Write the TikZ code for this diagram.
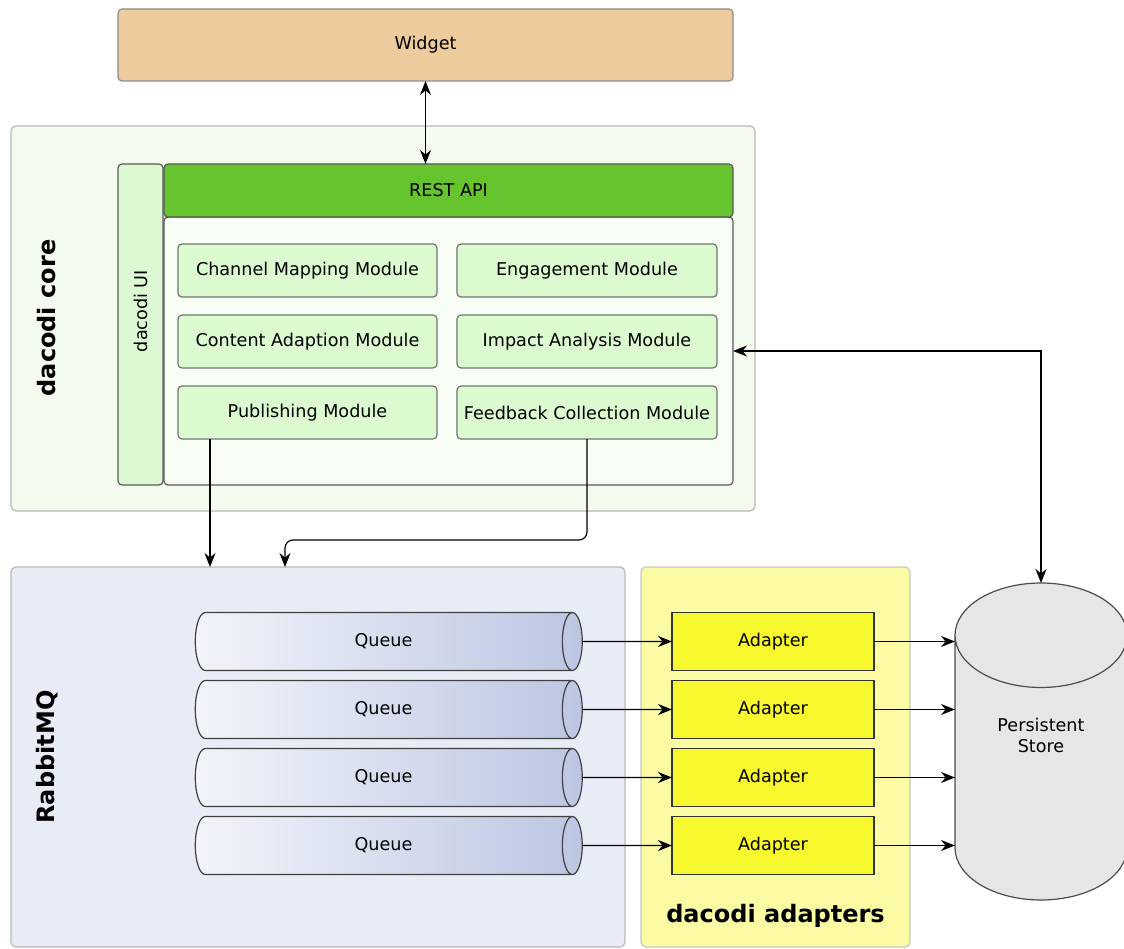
\documentclass[tikz,border=0pt]{standalone}
\usepackage{fontspec}
\setmainfont{DejaVu Sans}
\usetikzlibrary{shapes.geometric,arrows.meta}

\definecolor{widgetfill}{HTML}{EECB9D}
\definecolor{corefill}{HTML}{F3FBEF}
\definecolor{uifill}{HTML}{DDF9D3}
\definecolor{restfill}{HTML}{66C42F}
\definecolor{areafill}{HTML}{F8FDF5}
\definecolor{modfill}{HTML}{DCFAD0}
\definecolor{rabbitfill}{HTML}{E8ECF6}
\definecolor{queueleft}{HTML}{F2F4FA}
\definecolor{queueright}{HTML}{BCC6E2}
\definecolor{adaptfill}{HTML}{FBFBA4}
\definecolor{adapterfill}{HTML}{F8F82E}
\definecolor{storefill}{HTML}{E6E6E6}

\begin{document}
\begin{tikzpicture}[x=1pt,y=-1pt,
  every node/.style={inner sep=0pt,outer sep=0pt,font=\fontsize{17.6}{21}\selectfont},
  group/.style={draw=black!28,line width=1.2pt,rounded corners=5pt},
  module/.style={draw=black!55,line width=1.2pt,rounded corners=4pt,fill=modfill,
    minimum height=53pt},
  queue/.style={cylinder,draw=black!75,line width=1.2pt,aspect=1.3,
    left color=queueleft,right color=queueright,
    minimum width=58pt,minimum height=387pt},
  adapter/.style={draw=black!80,line width=1.2pt,fill=adapterfill,
    minimum width=202pt,minimum height=58pt},
  title/.style={font=\fontsize{24}{28}\selectfont\bfseries},
  flow/.style={line width=1.2pt,-{Stealth[length=14pt,width=11pt]}},
  both/.style={line width=1.2pt,{Stealth[length=14pt,width=11pt]}-{Stealth[length=14pt,width=11pt]}}]
\useasboundingbox (0,0) rectangle (1124,949);

% widget
\node[draw=black!45,line width=1.2pt,rounded corners=4pt,fill=widgetfill,
  minimum width=615pt,minimum height=72pt] (widget) at (425.5,45) {Widget};

% dacodi core
\node[group,fill=corefill,minimum width=744pt,minimum height=385pt] (core) at (383,318.5) {};
\node[title,rotate=90] (corelabel) at (47,318) {dacodi core};
\node[draw=black!65,line width=1.2pt,rounded corners=4pt,fill=uifill,
  minimum width=45pt,minimum height=321pt] (ui) at (140.5,324.5) {};
\node[rotate=90] (uilabel) at (140.5,311) {dacodi UI};
\node[draw=black!65,line width=1.2pt,rounded corners=4pt,fill=areafill,
  minimum width=569pt,minimum height=268pt] (area) at (448.5,351) {};
\node[draw=black!65,line width=1.2pt,rounded corners=4pt,fill=restfill,
  minimum width=569pt,minimum height=53pt] (rest) at (448.5,190.5) {REST API};

\node[module,minimum width=259pt] (chan) at (307.5,270.5) {Channel Mapping Module};
\node[module,minimum width=260pt] (engage) at (587,270.5) {Engagement Module};
\node[module,minimum width=259pt] (content) at (307.5,341.5) {Content Adaption Module};
\node[module,minimum width=260pt] (impact) at (587,341.5) {Impact Analysis Module};
\node[module,minimum width=259pt] (pub) at (307.5,412.5) {Publishing Module};
\node[module,minimum width=260pt] (feed) at (587,412.5) {Feedback Collection Module};

% RabbitMQ
\node[group,fill=rabbitfill,minimum width=614pt,minimum height=380pt] (rabbit) at (318,757) {};
\node[title,rotate=90] (rabbitlabel) at (47,757) {RabbitMQ};
\node[queue] (q1) at (383.5,641.5) {Queue};
\node[queue] (q2) at (383.5,709.5) {Queue};
\node[queue] (q3) at (383.5,777.5) {Queue};
\node[queue] (q4) at (383.5,845.5) {Queue};

% dacodi adapters
\node[group,draw=black!22,fill=adaptfill,minimum width=269pt,minimum height=380pt] (adapt) at (775.5,757) {};
\node[title] (adaptlabel) at (775.5,916) {dacodi adapters};
\node[adapter] (a1) at (773,641.5) {Adapter};
\node[adapter] (a2) at (773,709.5) {Adapter};
\node[adapter] (a3) at (773,777.5) {Adapter};
\node[adapter] (a4) at (773,845.5) {Adapter};

% persistent store
\node[cylinder,shape border rotate=90,draw=black!70,line width=1.2pt,fill=storefill,
  aspect=1.2,minimum width=172pt,minimum height=317pt,align=center,anchor=bottom]
  (store) at (1041,900) {\phantom{Persistent}\\\phantom{Store}};
\node[align=center] (storelabel) at (1041,735) {Persistent\\Store};

% connectors
\coordinate (pubin) at (210,567);
\coordinate (fbturn) at (285,540);
\coordinate (fbin) at (285,567);
\draw[both] (widget.south) -- (widget.south |- rest.north);
\draw[flow] (pub.south -| pubin) -- (pubin);
\draw[flow,rounded corners=8pt] (feed.south) |- (fbturn) -- (fbin);
\draw[both] (store.top) |- (area.east);
\foreach \i in {1,2,3,4}{
  \draw[flow] (q\i.east) -- (a\i.west);
  \draw[flow] (a\i.east) -- (a\i.east -| store.west);
}
\end{tikzpicture}
\end{document}
